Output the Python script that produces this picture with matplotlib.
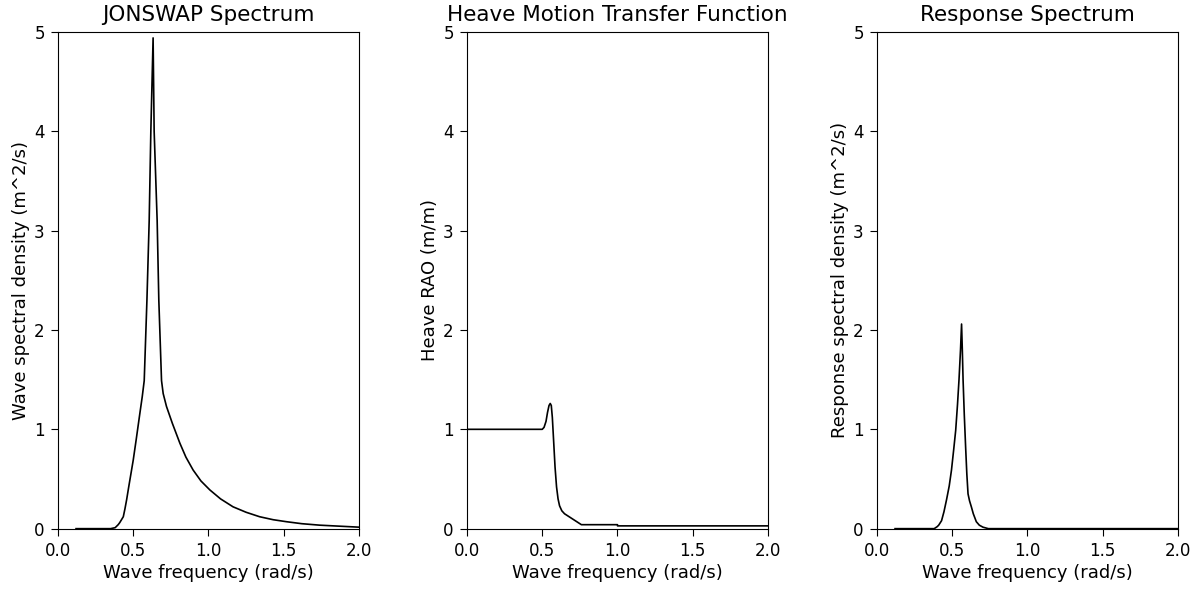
import matplotlib
matplotlib.use("Agg")
import matplotlib.pyplot as plt

plt.rcParams['font.family'] = ['DejaVu Sans']

# JONSWAP wave spectrum
jonswap_freq = [0.12, 0.35, 0.38, 0.39, 0.40, 0.41, 0.42, 0.434, 0.445, 0.456, 0.47,
                0.50, 0.52, 0.544, 0.56, 0.573, 0.591, 0.606, 0.617, 0.632, 0.639,
                0.659, 0.670, 0.688, 0.699, 0.721, 0.76, 0.81, 0.85, 0.898, 0.95,
                1.009, 1.08, 1.163, 1.25, 1.34, 1.43, 1.518, 1.62, 1.74, 1.87, 2.0]
jonswap_s = [0.0, 0.0, 0.01, 0.025, 0.04, 0.06, 0.085, 0.12, 0.2, 0.29, 0.42,
             0.69, 0.9, 1.16, 1.33, 1.49, 2.30, 3.10, 4.0, 4.94, 4.0,
             3.10, 2.30, 1.49, 1.36, 1.23, 1.06, 0.86, 0.72, 0.59, 0.48,
             0.39, 0.30, 0.22, 0.165, 0.12, 0.09, 0.07, 0.05, 0.035, 0.025, 0.015]

# Heave RAO
rao_freq = [0.0, 0.50, 0.512, 0.525, 0.535, 0.545, 0.553, 0.56, 0.567, 0.575, 0.585,
            0.595, 0.605, 0.615, 0.63, 0.648, 0.76, 1.0, 1.0, 2.0]
rao_val = [1.0, 1.0, 1.02, 1.08, 1.17, 1.24, 1.26, 1.24, 1.12, 0.9, 0.62,
           0.42, 0.3, 0.23, 0.18, 0.15, 0.04, 0.04, 0.028, 0.028]

# Response spectrum
resp_freq = [0.12, 0.38, 0.39, 0.40, 0.41, 0.429, 0.445, 0.462, 0.48, 0.495, 0.51,
             0.523, 0.535, 0.545, 0.555, 0.562, 0.567, 0.572, 0.58, 0.589, 0.597,
             0.605, 0.615, 0.627, 0.64, 0.66, 0.68, 0.704, 0.74, 2.0]
resp_s = [0.0, 0.0, 0.01, 0.02, 0.035, 0.08, 0.17, 0.29, 0.43, 0.59, 0.8,
          0.99, 1.25, 1.50, 1.8, 2.06, 1.8, 1.50, 1.15, 0.82, 0.55,
          0.35, 0.28, 0.22, 0.15, 0.07, 0.035, 0.015, 0.0, 0.0]

titles = ["JONSWAP Spectrum", "Heave Motion Transfer Function", "Response Spectrum"]
ylabels = ["Wave spectral density (m^2/s)", "Heave RAO (m/m)", "Response spectral density (m^2/s)"]
xlabel = "Wave frequency (rad/s)"
xticks = [0.0, 0.5, 1.0, 1.5, 2.0]
yticks = [0, 1, 2, 3, 4, 5]

fig = plt.figure(figsize=(12.03, 5.92), dpi=100)
lefts = [0.0482, 0.3882, 0.729]
series = [(jonswap_freq, jonswap_s), (rao_freq, rao_val), (resp_freq, resp_s)]
for i in range(3):
    ax = fig.add_axes([lefts[i], 0.107, 0.2502, 0.839])
    x, y = series[i]
    ax.plot(x, y, color='black', linewidth=1.2)
    ax.set_xlim(0, 2)
    ax.set_ylim(0, 5)
    ax.set_xticks(xticks)
    ax.set_xticklabels([f"{t:.1f}" for t in xticks])
    ax.set_yticks(yticks)
    ax.set_yticklabels([str(t) for t in yticks])
    ax.tick_params(labelsize=12, length=5, pad=4.5)
    ax.set_title(titles[i], fontsize=15.5, pad=8)
    ax.set_xlabel(xlabel, fontsize=13, labelpad=3)
    ax.set_ylabel(ylabels[i], fontsize=13, labelpad=3)

fig.savefig("out.png", dpi=100)
